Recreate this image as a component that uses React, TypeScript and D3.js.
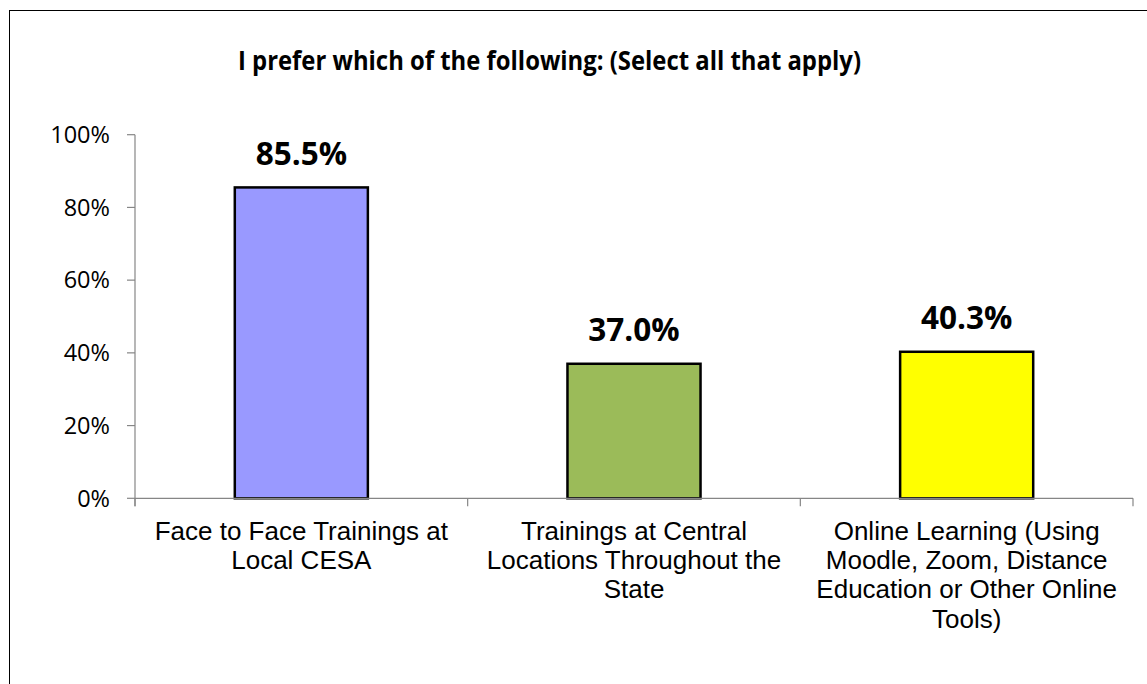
import React from "react";
import * as d3 from "d3";

const categories = [
  "Face to Face Trainings at Local CESA",
  "Trainings at Central Locations Throughout the State",
  "Online Learning (Using Moodle, Zoom, Distance Education or Other Online Tools)",
];
const categoryLines = [
  ["Face to Face Trainings at", "Local CESA"],
  ["Trainings at Central", "Locations Throughout the", "State"],
  ["Online Learning (Using", "Moodle, Zoom, Distance", "Education or Other Online", "Tools)"],
];
const values = [0.855, 0.37, 0.403];
const valueLabels = ["85.5%", "37.0%", "40.3%"];
const barColors = ["#9999FF", "#9BBB59", "#FFFF00"];
const yTicks = [0, 0.2, 0.4, 0.6, 0.8, 1.0];
const title = "I prefer which of the following: (Select all that apply)";

const W = 1147;
const H = 684;
const plot = { left: 135, right: 1133, top: 134.7, bottom: 498.3 };

export default function App() {
  const x = d3
    .scaleBand<string>()
    .domain(categories)
    .range([plot.left, plot.right])
    .paddingInner(0.6)
    .paddingOuter(0.3);
  const step = (plot.right - plot.left) / categories.length;
  const y = d3.scaleLinear().domain([0, 1]).range([plot.bottom, plot.top]);
  const axisColor = "#868686";
  const fmt = d3.format(".0%");
  const boundaries = d3.range(categories.length + 1).map((i) => plot.left + i * step);

  return (
    <svg
      width={W}
      height={H}
      style={{ position: "absolute", left: 0, top: 0, background: "#fff" }}
    >
      <rect x={0} y={0} width={W} height={H} fill="#fff" />
      {/* chart frame */}
      <rect x={9.5} y={10.5} width={W + 20} height={H + 20} fill="none" stroke="#000" strokeWidth={1} />

      {/* title */}
      <text
        x={238}
        y={69.5}
        textAnchor="start"
        textLength={623}
        lengthAdjust="spacingAndGlyphs"
        fontFamily="'Open Sans', sans-serif"
        fontWeight={700}
        fontSize={27.5}
        fill="#000"
      >
        {title}
      </text>

      {/* y axis */}
      <line x1={plot.left} x2={plot.left} y1={plot.top} y2={plot.bottom + 8} stroke={axisColor} strokeWidth={1.2} />
      {yTicks.map((t) => (
        <g key={t}>
          <line x1={plot.left - 8} x2={plot.left} y1={y(t)} y2={y(t)} stroke={axisColor} strokeWidth={1.2} />
          <text
            x={110}
            y={y(t)}
            dy="0.35em"
            textAnchor="end"
            fontFamily="'Open Sans', sans-serif"
            fontSize={23.5}
            fill="#000"
          >
            {fmt(t)}
          </text>
        </g>
      ))}

      {/* bars */}
      {categories.map((c, i) => (
        <g key={c}>
          <rect
            x={x(c)!}
            y={y(values[i])}
            width={x.bandwidth()}
            height={plot.bottom - y(values[i])}
            fill={barColors[i]}
            stroke="#000"
            strokeWidth={2.5}
          />
          <text
            x={x(c)! + x.bandwidth() / 2}
            y={y(values[i]) - 22.5}
            textAnchor="middle"
            fontFamily="'Open Sans', sans-serif"
            fontWeight={700}
            fontSize={31.5}
            fill="#000"
          >
            {valueLabels[i]}
          </text>
        </g>
      ))}

      {/* x axis */}
      <line x1={plot.left} x2={plot.right} y1={plot.bottom} y2={plot.bottom} stroke={axisColor} strokeWidth={1.2} />
      {boundaries.map((b, i) => (
        <line key={i} x1={b} x2={b} y1={plot.bottom} y2={plot.bottom + 8} stroke={axisColor} strokeWidth={1.2} />
      ))}
      {categories.map((c, i) => (
        <text
          key={c}
          x={x(c)! + x.bandwidth() / 2}
          y={540}
          textAnchor="middle"
          fontFamily="'Liberation Sans', Arial, sans-serif"
          fontSize={26}
          fill="#000"
        >
          {categoryLines[i].map((ln, j) => (
            <tspan key={j} x={x(c)! + x.bandwidth() / 2} y={540 + j * 29.2}>
              {ln}
            </tspan>
          ))}
        </text>
      ))}
    </svg>
  );
}
